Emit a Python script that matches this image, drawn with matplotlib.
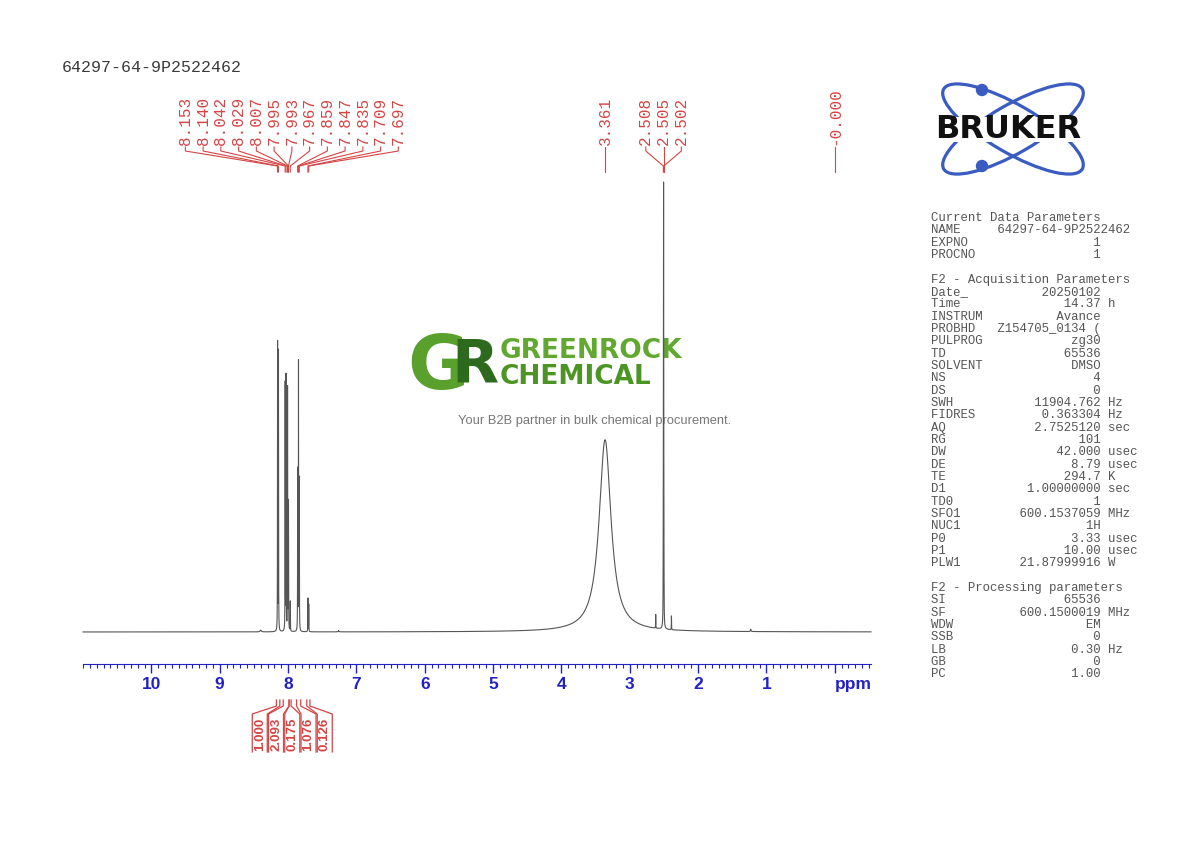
import numpy as np
import matplotlib
matplotlib.use('Agg')
import matplotlib.pyplot as plt
from matplotlib.patches import Ellipse, Circle, Rectangle
from matplotlib.ticker import FixedLocator, MultipleLocator

SAMPLE = '64297-64-9P2522462'
RED = '#d44545'
BLUE = '#2222c4'
GREY = '#555555'

# righe dello spettro: posizione (ppm), altezza, semilarghezza (ppm)
line_ppm = [8.153, 8.140, 8.042, 8.029, 8.007, 7.995, 7.993, 7.967,
            7.859, 7.847, 7.835, 7.709, 7.697, 3.361,
            2.511, 2.508, 2.505, 2.502, 2.499, 2.620, 2.390,
            8.400, 7.260, 1.230]
line_height = [63.0, 61.0, 54.0, 55.5, 53.0, 20.0, 20.0, 6.5,
               35.0, 58.5, 33.0, 7.3, 6.0, 42.0,
               6.0, 30.0, 85.0, 30.0, 6.0, 3.0, 3.0,
               0.4, 0.3, 0.5]
line_hwhm = [0.0015] * 13 + [0.105] + [0.0015] * 7 + [0.01, 0.005, 0.005]

# etichette dei picchi (gruppi)
peak_groups = [
    ['8.153', '8.140', '8.042', '8.029', '8.007', '7.995', '7.993',
     '7.967', '7.859', '7.847', '7.835', '7.709', '7.697'],
    ['3.361'],
    ['2.508', '2.505', '2.502'],
    ['-0.000'],
]

# integrali
integral_values = ['1.000', '2.093', '0.175', '1.076', '0.126']
integral_from = [8.170, 8.070, 7.985, 7.875, 7.725]
integral_to = [8.120, 7.985, 7.955, 7.815, 7.680]

xtick_values = [10, 9, 8, 7, 6, 5, 4, 3, 2, 1, 0]
xtick_labels = ['10', '9', '8', '7', '6', '5', '4', '3', '2', '1', '']

# parametri di acquisizione
current_names = ['NAME', 'EXPNO', 'PROCNO']
current_values = [SAMPLE, '1', '1']
acq_names = ['Date_', 'Time', 'INSTRUM', 'PROBHD', 'PULPROG', 'TD', 'SOLVENT',
             'NS', 'DS', 'SWH', 'FIDRES', 'AQ', 'RG', 'DW', 'DE', 'TE', 'D1',
             'TD0', 'SFO1', 'NUC1', 'P0', 'P1', 'PLW1']
acq_values = ['20250102', '14.37', 'Avance', 'Z154705_0134 (', 'zg30', '65536',
              'DMSO', '4', '0', '11904.762', '0.363304', '2.7525120', '101',
              '42.000', '8.79', '294.7', '1.00000000', '1', '600.1537059',
              '1H', '3.33', '10.00', '21.87999916']
acq_units = ['', 'h', '', '', '', '', '', '', '', 'Hz', 'Hz', 'sec', '',
             'usec', 'usec', 'K', 'sec', '', 'MHz', '', 'usec', 'usec', 'W']
proc_names = ['SI', 'SF', 'WDW', 'SSB', 'LB', 'GB', 'PC']
proc_values = ['65536', '600.1500019', 'EM', '0', '0.30', '0', '1.00']
proc_units = ['', 'MHz', '', '', 'Hz', '', '']


def build_spectrum(ppm):
    '''Somma di lorentziane dalle righe lette'''
    y = np.zeros_like(ppm)
    for p, h, w in zip(line_ppm, line_height, line_hwhm):
        y += h / (1 + ((ppm - p) / w) ** 2)
    return y


def param_lines():
    rows = ['Current Data Parameters']
    rows.append(current_names[0].ljust(9) + current_values[0])
    for n, v in zip(current_names[1:], current_values[1:]):
        rows.append(n.ljust(8) + v.rjust(15))
    rows += ['', 'F2 - Acquisition Parameters']
    for n, v, u in zip(acq_names, acq_values, acq_units):
        rows.append(n.ljust(8) + v.rjust(15) + (' ' + u if u else ''))
    rows += ['', 'F2 - Processing parameters']
    for n, v, u in zip(proc_names, proc_values, proc_units):
        rows.append(n.ljust(8) + v.rjust(15) + (' ' + u if u else ''))
    return rows


def main():
    fig = plt.figure(figsize=(11.9, 8.42), dpi=100)
    ov = fig.add_axes([0, 0, 1, 1], zorder=0)
    ov.set_xlim(0, 1190)
    ov.set_ylim(842, 0)
    ov.axis('off')

    ax = fig.add_axes([83 / 1190, 178 / 842, 788 / 1190, 482 / 842], zorder=1)
    ax.set_facecolor('none')
    ppm = np.linspace(11.0, -0.53, 80000)
    y = build_spectrum(ppm)
    ax.plot(ppm, y, color=GREY, lw=0.8, clip_on=False)
    ax.set_xlim(11.0, -0.53)
    top = y.max()
    ax.set_ylim(-top * 32 / 450, top)
    for s in ('left', 'right', 'top'):
        ax.spines[s].set_visible(False)
    ax.spines['bottom'].set_color(BLUE)
    ax.set_yticks([])
    ax.xaxis.set_major_locator(FixedLocator(xtick_values))
    ax.set_xticklabels(xtick_labels, fontweight='bold', family='Liberation Sans')
    ax.xaxis.set_minor_locator(MultipleLocator(0.1))
    ax.tick_params(axis='x', which='major', length=6.5, width=1, color=BLUE,
                   labelcolor=BLUE, labelsize=12.5, pad=3)
    ax.tick_params(axis='x', which='minor', length=3, width=0.8, color=BLUE)

    def to_px(p):
        xd, _ = ax.transData.transform((p, 0))
        return ov.transData.inverted().transform((xd, 0))[0]

    ov.text(to_px(-0.27), 685, 'ppm', ha='center', va='center', color=BLUE,
            fontsize=12.5, fontweight='bold', family='Liberation Sans')

    # etichette dei picchi
    for group in peak_groups:
        xs = [to_px(float(s)) for s in group]
        c = np.mean(xs)
        n = len(group)
        for i, (s, xp) in enumerate(zip(group, xs)):
            lx = c + (i - (n - 1) / 2) * 17.75
            ov.text(lx, 145, s, rotation=90, ha='center', va='bottom',
                    family='Liberation Mono', fontsize=11.5, color=RED)
            ov.plot([lx, lx, xp, xp], [147, 151, 166, 172], color=RED, lw=0.8)

    # integrali
    xf = [to_px(p) for p in integral_from]
    xt = [to_px(p) for p in integral_to]
    c = np.mean([(a + b) / 2 for a, b in zip(xf, xt)])
    n = len(integral_values)
    for j, (v, a, b) in enumerate(zip(integral_values, xf, xt)):
        cx = c + (j - (n - 1) / 2) * 16.25
        ov.plot([a, a, cx - 7.5, cx - 7.5], [700, 706, 714, 752], color=RED, lw=0.9)
        ov.plot([b, b, cx + 7.5, cx + 7.5], [700, 706, 714, 752], color=RED, lw=0.9)
        ov.text(cx, 734, v, rotation=90, ha='center', va='center', color=RED,
                fontsize=9.5, fontweight='bold', family='Liberation Sans')

    # titolo
    ov.text(62, 68, SAMPLE, ha='left', va='center', family='Liberation Mono',
            fontsize=12, color='#3a3a3a')

    # pannello parametri
    for k, row in enumerate(param_lines()):
        if row:
            ov.text(931, 218 + k * 12.33, row, ha='left', va='center',
                    family='Liberation Mono', fontsize=8.9, color='#555555')

    # logo Bruker
    for ang in (30, -30):
        ov.add_patch(Ellipse((1013, 129), 160, 48, angle=ang, fill=False,
                             ec='#3a5cc0', lw=2.3))
    ov.add_patch(Circle((982, 90), 5.5, color='#3a5cc0'))
    ov.add_patch(Circle((982, 166), 5.5, color='#3a5cc0'))
    ov.add_patch(Rectangle((922, 117), 172, 25, fc='white', ec='none'))
    ov.text(1008, 130, 'BRUKER', ha='center', va='center', fontsize=23,
            fontweight='bold', family='DejaVu Sans', color='#111111')

    # filigrana
    ov.text(438, 368, 'G', ha='center', va='center', fontsize=54,
            fontweight='bold', family='DejaVu Sans', color='#5aa02c')
    ov.text(475, 366, 'R', ha='center', va='center', fontsize=44,
            fontweight='bold', family='DejaVu Sans', color='#2d6a1e')
    ov.text(500, 351, 'GREENROCK', ha='left', va='center', fontsize=19,
            fontweight='bold', family='DejaVu Sans', color='#62a830')
    ov.text(500, 377, 'CHEMICAL', ha='left', va='center', fontsize=19,
            fontweight='bold', family='DejaVu Sans', color='#4c9524')
    ov.text(594.5, 421, 'Your B2B partner in bulk chemical procurement.',
            ha='center', va='center', fontsize=9.3, family='Liberation Sans',
            color='#777777')

    fig.savefig('out.png', dpi=100)


if __name__ == '__main__':
    main()
